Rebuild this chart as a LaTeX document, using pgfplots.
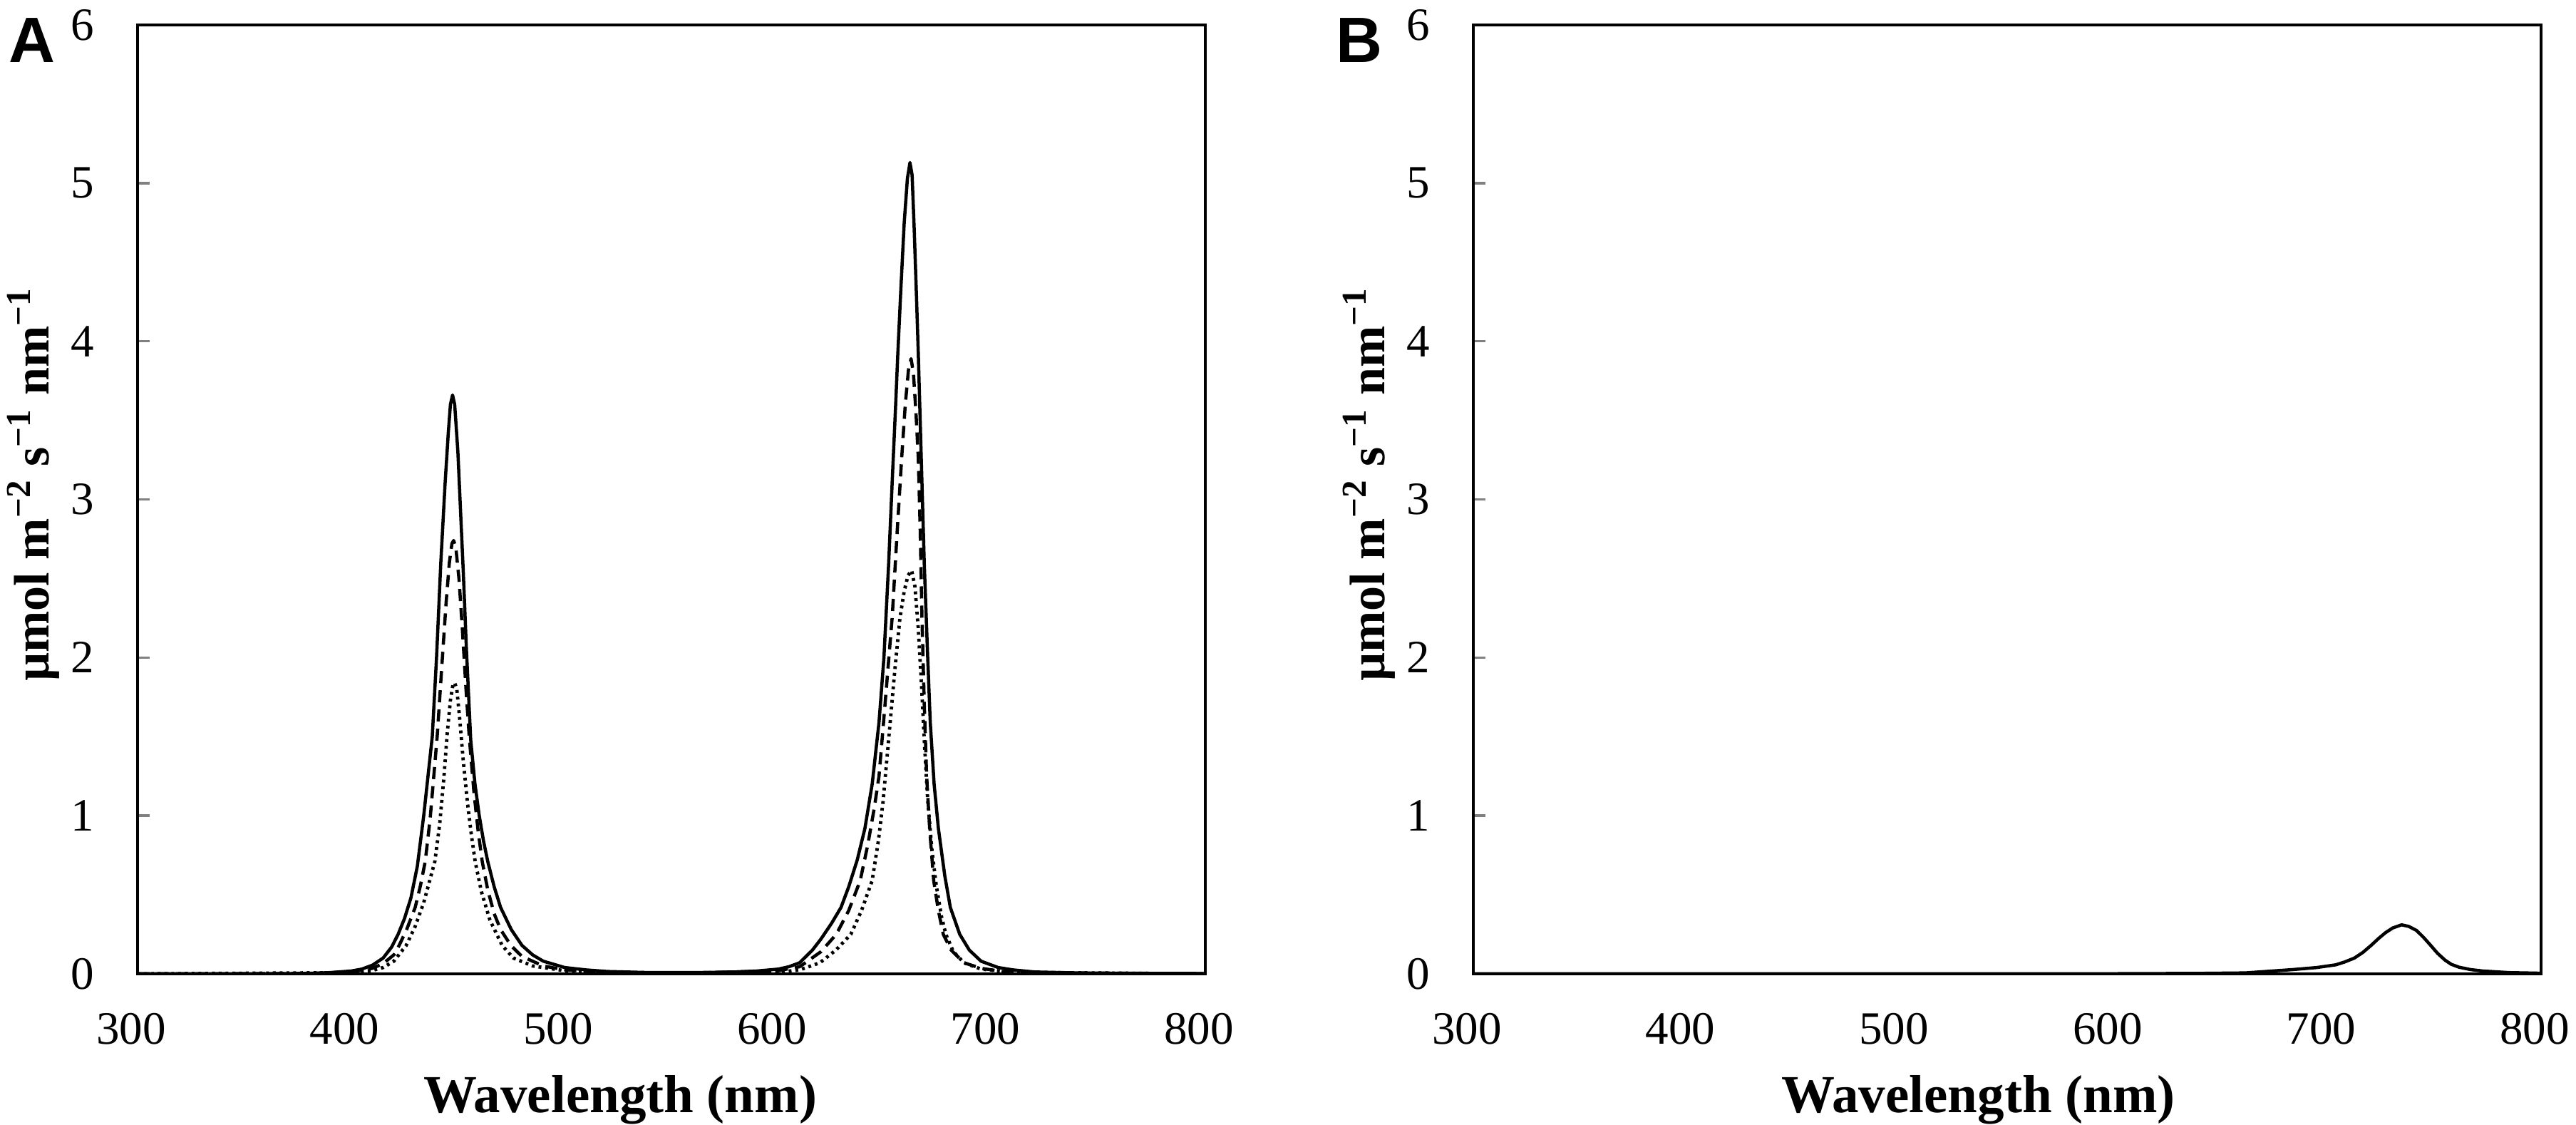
\documentclass[border=0pt]{standalone}
\usepackage{fontspec}
\setmainfont{Liberation Serif}
\newfontfamily\panelfont{Liberation Sans}
\usepackage{pgfplots}
\pgfplotsset{compat=1.18}

\pgfplotsset{
  spec/.style={
    scale only axis, width=299.6pt, height=266.2pt,
    anchor=south west,
    xmin=300, xmax=800, ymin=0, ymax=6,
    xtick={300,400,...,800}, ytick={0,1,...,6},
    ytick pos=left, tick align=inside,
    major tick length=3.4pt,
    xtick style={draw=none},
    ytick style={line width=0.7pt},
    axis line style={line width=0.75pt},
    /pgf/number format/assume math mode=true,
    tick label style={font=\fontsize{13}{13}\selectfont},
    yticklabel style={inner sep=0pt, xshift=-12pt},
    xticklabel style={inner sep=0pt, anchor=north, yshift=-10.8pt, xshift=-1.8pt},
    label style={font=\fontsize{14}{16}\selectfont\bfseries},
    xlabel style={font=\fontsize{15}{17}\selectfont\bfseries},
    xlabel={Wavelength (nm)},
    ylabel={µmol m\textsuperscript{−2} s\textsuperscript{−1} nm\textsuperscript{−1}},
    ylabel style={at={(axis description cs:-0.083,0.516)}, anchor=base},
  },
  solidline/.style={black, no marks, line width=0.9pt, line join=round},
  dashedline/.style={solidline, dash pattern=on 3.4pt off 2pt},
  dottedline/.style={solidline, line width=0.95pt, dash pattern=on 0.8pt off 1.1pt},
}

\begin{document}
\begin{tikzpicture}
\path[use as bounding box] (0,0) rectangle (722.8pt,315.6pt);

% panel A
\begin{axis}[spec, at={(38.6pt,42.4pt)},
  xlabel style={at={(axis description cs:0.452,-0.1458)}, anchor=base}]
% solid
\addplot[solidline] coordinates {
(300,0) (350,0) (380,0.003) (390,0.008) (400,0.018) (405,0.03) (410,0.055)
(415,0.1) (419,0.17) (422,0.25) (425,0.35) (428,0.48) (431,0.68) (434,1.0)
(436,1.25) (438,1.5) (440,2.0) (442,2.6) (444,3.1) (445.5,3.42) (446.5,3.6)
(447.5,3.66) (448.5,3.6) (450,3.3) (451.5,2.85) (452.5,2.55) (454,2.05)
(456,1.48) (458,1.2) (460,1.0) (462,0.84) (464,0.71) (467,0.55) (470,0.42)
(475,0.28) (480,0.18) (485,0.12) (490,0.08) (500,0.04) (510,0.025) (520,0.015)
(540,0.008) (560,0.008) (580,0.012) (590,0.018) (600,0.03) (605,0.045)
(610,0.07) (616,0.15) (620,0.22) (625,0.32) (629.4,0.42) (633,0.55) (637,0.72)
(640.6,0.92) (644,1.2) (647.2,1.59) (649.5,2.0) (651.7,2.59) (653.5,3.15)
(655,3.6) (656,3.92) (657.5,4.35) (659,4.75) (660.5,5.03) (661.7,5.13)
(662.7,5.05) (663.7,4.7) (664.7,4.3) (665.6,3.92) (667,3.25) (668.4,2.59)
(670,2.0) (671.2,1.59) (673,1.2) (675,0.92) (678,0.62) (680.6,0.42) (685,0.25)
(689.5,0.15) (695,0.08) (703,0.04) (710,0.025) (720,0.012) (740,0.006)
(760,0.004) (800,0.002)
};
% dashed
\addplot[dashedline] coordinates {
(300,0) (380,0.002) (400,0.012) (410,0.035) (415,0.065) (420,0.12)
(422.5,0.18) (426,0.28) (430,0.42) (432.5,0.56) (434.7,0.71) (437,0.98)
(440.3,1.5) (442.5,1.95) (444.5,2.35) (446,2.6) (447.2,2.72) (448,2.74)
(449,2.7) (450.5,2.5) (452,2.2) (453.8,1.8) (455.3,1.5) (457.5,1.15)
(459.5,0.9) (461.4,0.71) (464,0.53) (467,0.38) (470,0.28) (474.8,0.18)
(480,0.11) (490,0.05) (500,0.025) (520,0.01) (560,0.005) (600,0.02)
(610,0.045) (612.7,0.07) (620,0.14) (627.2,0.25) (633,0.4) (638.4,0.59)
(642,0.82) (645,1.05) (647.2,1.25) (650,1.7) (653.4,2.26) (655.5,2.75)
(657.8,3.26) (659.5,3.6) (661,3.82) (662.2,3.89) (663.3,3.8) (664.5,3.55)
(665.6,3.26) (666.5,2.8) (667.3,2.26) (668.4,1.7) (669.5,1.25) (671,0.9)
(672.8,0.59) (675,0.4) (677.3,0.25) (681,0.15) (687,0.07) (695,0.035)
(705,0.015) (720,0.006) (800,0.001)
};
% dotted
\addplot[dottedline] coordinates {
(300,0) (400,0.008) (410,0.022) (415,0.04) (420,0.08) (425.8,0.18) (430,0.3)
(434,0.45) (437,0.6) (439.2,0.71) (441.5,0.95) (443.5,1.25) (445,1.52)
(446.5,1.73) (447.7,1.83) (448.5,1.84) (449.5,1.8) (450.8,1.62) (452.5,1.35)
(454.5,1.08) (456.3,0.88) (458.1,0.71) (461,0.52) (465,0.34) (470.7,0.18)
(476,0.1) (485,0.05) (500,0.02) (520,0.008) (580,0.004) (600,0.01)
(610,0.025) (619.5,0.07) (627,0.15) (634,0.25) (639,0.4) (644,0.59)
(647,0.85) (649.1,1.09) (651.5,1.45) (654.6,1.92) (657,2.25) (659,2.42)
(660.8,2.52) (662.5,2.55) (664,2.45) (665.5,2.2) (667,1.85) (668.5,1.45)
(670,1.1) (672,0.78) (674,0.56) (676.5,0.36) (678.5,0.25) (682,0.14)
(687,0.07) (695,0.03) (710,0.01) (800,0)
};
\end{axis}

% panel B
\begin{axis}[spec, at={(413.4pt,42.4pt)},
  xlabel style={at={(axis description cs:0.473,-0.1458)}, anchor=base}]
\addplot[solidline] coordinates {
(300,0) (600,0.001) (640,0.003) (661.5,0.006) (683.7,0.027) (695,0.04)
(703.8,0.057) (708,0.075) (712.6,0.10) (716.5,0.135) (720.4,0.18)
(724,0.225) (727.1,0.26) (730.5,0.29) (734.7,0.31) (738,0.3) (741.6,0.275)
(745,0.23) (748.3,0.18) (751.5,0.13) (755,0.087) (758,0.06) (761.6,0.042)
(767,0.027) (772.7,0.018) (785,0.008) (800,0.004)
};
\end{axis}

\node[anchor=base west, inner sep=0pt, font=\panelfont\bfseries\fontsize{18}{18}\selectfont] at (2.4pt,298pt) {A};
\node[anchor=base west, inner sep=0pt, font=\panelfont\bfseries\fontsize{18}{18}\selectfont] at (374.6pt,298pt) {B};
\end{tikzpicture}
\end{document}
